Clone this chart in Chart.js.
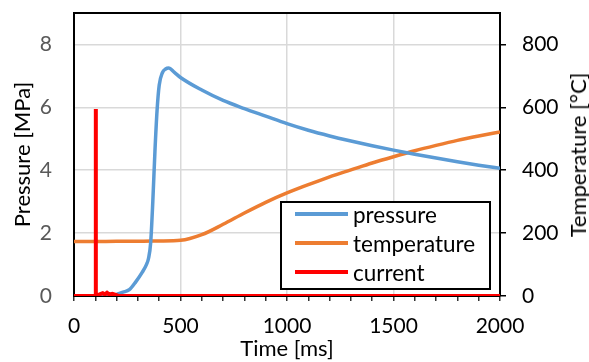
<!DOCTYPE html>
<html>
<head>
<meta charset="utf-8">
<script src="https://cdn.jsdelivr.net/npm/chart.js@4.4.0/dist/chart.umd.min.js"></script>
<style>
body{margin:0;background:#fff;}
#wrap{position:relative;width:589px;height:362px;}
#legend{position:absolute;left:280px;top:201px;width:207px;height:85px;border:2px solid #000;background:#fff;font-family:Lato,sans-serif;font-size:22.5px;color:#000;}
.row{position:absolute;left:0;width:100%;height:29px;line-height:29px;}
.swatch{position:absolute;left:13px;top:12px;width:53px;height:4px;}
.label{position:absolute;left:71px;top:0;white-space:nowrap;}
#rtitle{position:absolute;left:578px;top:155px;transform:translate(-50%,-50%) rotate(-90deg);font-family:Lato,sans-serif;font-size:22px;color:#000;white-space:nowrap;line-height:24px;}
</style>
</head>
<body>
<div id="wrap">
<canvas id="linegraph" width="589" height="362"></canvas>
<div id="legend"></div>
<div id="rtitle"></div>
</div>
<script>
// time [ms] and values
var pressureTime=[0,100,180,200,230,260,290,320,340,350,360,370,380,390,400,415,430,445,470,500,600,700,800,900,1000,1100,1200,1300,1400,1500,1600,1700,1800,1900,2000];
var pressure=[0,0,0,0.05,0.12,0.2,0.45,0.75,1.0,1.2,1.7,3.0,4.6,5.9,6.7,7.1,7.22,7.25,7.12,6.95,6.55,6.22,5.96,5.72,5.48,5.27,5.09,4.93,4.78,4.64,4.51,4.39,4.27,4.16,4.06];

var tempTime=[0,100,200,300,400,500,600,700,800,900,1000,1100,1200,1300,1400,1500,1600,1700,1800,1900,2000];
var temperature=[173,173,174,174,175,177,195,228,264,298,328,354,379,401,423,443,462,479,495,509,522];

var currentTime=[0,101,102,103,106,120,135,145,155,165,180,200,210,2000];
var current=[0,0,5.95,0.03,0.03,0.05,0.09,0.05,0.1,0.05,0.07,0.03,0,0];

var xTicks=[0,500,1000,1500,2000];
var rightTitle='Temperature [°C]';

function pts(xs,ys){
    var out=[];
    for (var i in xs){
        out.push({x:xs[i],y:ys[i]});
    }
    return out;
}

var font='Lato, sans-serif';

var chartdata={
    datasets:[{
        label:"current",
        data:pts(currentTime,current),
        borderColor:"#FF0000",
        backgroundColor:"#FF0000",
        borderWidth:4,
        pointRadius:0,
        yAxisID:'y',
        order:0
    },
    {
        label:"pressure",
        data:pts(pressureTime,pressure),
        borderColor:"#5B9BD5",
        backgroundColor:"#5B9BD5",
        borderWidth:3.5,
        pointRadius:0,
        cubicInterpolationMode:'monotone',
        yAxisID:'y',
        order:1
    },
    {
        label:"temperature",
        data:pts(tempTime,temperature),
        borderColor:"#ED7D31",
        backgroundColor:"#ED7D31",
        borderWidth:3.5,
        pointRadius:0,
        cubicInterpolationMode:'monotone',
        yAxisID:'y2',
        order:2
    }]
};

var topBorder={
    id:'topBorder',
    afterDraw:function(chart){
        var a=chart.chartArea, c=chart.ctx;
        c.save();
        c.strokeStyle='#000';
        c.lineWidth=2;
        c.beginPath();
        c.moveTo(a.left-1,a.top);
        c.lineTo(a.right+1,a.top);
        c.stroke();
        c.restore();
    }
};

function fitV(w){
    return function(s){
        s.width=w;
        s.paddingTop=0;
        s.paddingBottom=0;
    };
}

var ctx=document.getElementById('linegraph');
var line=new Chart(ctx,{
    type:'line',
    data:chartdata,
    plugins:[topBorder],
    options:{
        responsive:false,
        animation:false,
        layout:{padding:{top:13,left:0,right:0,bottom:0}},
        plugins:{legend:{display:false},tooltip:{enabled:false}},
        scales:{
            x:{
                type:'linear',
                min:0,max:2000,
                afterFit:function(s){s.height=66;s.paddingLeft=0;s.paddingRight=0;},
                border:{color:'#000',width:2},
                grid:{
                    lineWidth:1.5,
                    color:function(c){var v=c.tick.value;return (v%500===0&&v>0&&v<2000)?'#d9d9d9':'rgba(0,0,0,0)';},
                    tickColor:'#333',
                    tickLength:5
                },
                ticks:{
                    stepSize:100,
                    autoSkip:false,
                    maxRotation:0,
                    padding:13,
                    color:'#000',
                    font:{family:font,size:21},
                    callback:function(v){return xTicks.indexOf(v)>=0?String(v):'';}
                },
                title:{display:true,text:'Time [ms]',color:'#000',font:{family:font,size:22},padding:{top:0,bottom:0}}
            },
            y:{
                position:'left',
                min:0,max:9,
                afterFit:fitV(74),
                border:{color:'#000',width:2},
                grid:{
                    lineWidth:1.5,
                    drawTicks:false,
                    color:function(c){return c.tick.value>0?'#d9d9d9':'rgba(0,0,0,0)';}
                },
                ticks:{
                    stepSize:2,
                    includeBounds:false,
                    padding:22,
                    color:'#595959',
                    font:{family:font,size:21}
                },
                title:{display:true,text:'Pressure [MPa]',color:'#000',font:{family:font,size:22},padding:{top:10,bottom:0}}
            },
            y2:{
                position:'right',
                min:0,max:900,
                afterFit:fitV(89),
                border:{color:'#000',width:2},
                grid:{
                    drawOnChartArea:false,
                    tickLength:6,
                    tickColor:'#000',
                    lineWidth:1.5
                },
                ticks:{
                    stepSize:200,
                    includeBounds:false,
                    padding:16,
                    color:'#000',
                    font:{family:font,size:21}
                },
                title:{display:false}
            }
        }
    }
});

document.getElementById('rtitle').textContent=rightTitle;

// legend box inside the plot, built from the datasets
var legendOrder=['pressure','temperature','current'];
var box=document.getElementById('legend');
legendOrder.forEach(function(name,i){
    var ds=chartdata.datasets.filter(function(d){return d.label===name;})[0];
    var row=box.appendChild(document.createElement('div'));
    row.className='row';
    row.style.top=(i*29-3)+'px';
    var sw=document.createElement('span');
    sw.className='swatch';
    sw.style.background=ds.borderColor;
    var lb=document.createElement('span');
    lb.className='label';
    lb.textContent=ds.label;
    row.appendChild(sw);
    row.appendChild(lb);
});
</script>
</body>
</html>
